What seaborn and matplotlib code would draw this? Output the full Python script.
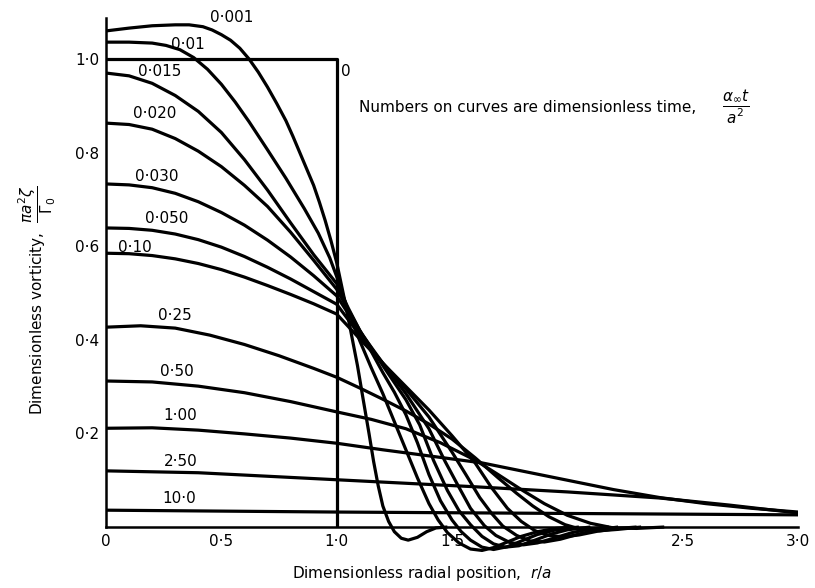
import matplotlib
matplotlib.use("Agg")
import matplotlib.pyplot as plt
import seaborn as sns
import pandas as pd

# Dimensionless times labelling each profile
times = ["0", "0·001", "0·01", "0·015", "0·020", "0·030", "0·050", "0·10",
         "0·25", "0·50", "1·00", "2·50", "10·0"]

# Radial positions r/a and vorticity pi a^2 zeta / Gamma_0 for each profile
r_0 = [0.0, 1.0, 1.0]
v_0 = [1.0, 1.0, 0.0]

r_0001 = [0, 0.1, 0.2, 0.3, 0.36, 0.42, 0.46, 0.50, 0.54, 0.58, 0.62, 0.66, 0.70, 0.74, 0.78,
          0.81, 0.84, 0.87, 0.90, 0.925, 0.95, 0.975, 1.0, 1.03, 1.06, 1.09, 1.115, 1.14, 1.16,
          1.18, 1.2, 1.225, 1.25, 1.28, 1.31, 1.35, 1.39, 1.43, 1.48]
v_0001 = [1.060, 1.066, 1.071, 1.073, 1.073, 1.069, 1.062, 1.052, 1.040, 1.023, 1.0, 0.972,
          0.940, 0.905, 0.868, 0.835, 0.800, 0.765, 0.730, 0.694, 0.655, 0.612, 0.565, 0.495,
          0.421, 0.345, 0.272, 0.200, 0.140, 0.088, 0.045, 0.012, -0.010, -0.024, -0.028,
          -0.022, -0.010, -0.002, 0.0]

r_001 = [0, 0.1, 0.2, 0.26, 0.32, 0.38, 0.44, 0.50, 0.56, 0.62, 0.70, 0.78, 0.86, 0.92, 0.97,
         1.0, 1.05, 1.1, 1.15, 1.2, 1.25, 1.3, 1.35, 1.4, 1.44, 1.48, 1.53, 1.58, 1.63, 1.68,
         1.74, 1.8, 1.87, 1.95, 2.02]
v_001 = [1.036, 1.036, 1.034, 1.029, 1.020, 1.003, 0.978, 0.946, 0.908, 0.866, 0.806, 0.745,
         0.680, 0.628, 0.575, 0.535, 0.462, 0.398, 0.340, 0.285, 0.225, 0.165, 0.105, 0.050,
         0.015, -0.012, -0.034, -0.047, -0.050, -0.044, -0.032, -0.020, -0.010, -0.003, 0.0]

r_0015 = [0, 0.1, 0.2, 0.3, 0.4, 0.5, 0.6, 0.7, 0.8, 0.9, 1.0, 1.05, 1.1, 1.15, 1.2, 1.25, 1.3,
          1.35, 1.4, 1.45, 1.5, 1.54, 1.58, 1.63, 1.68, 1.74, 1.8, 1.87, 1.95, 2.05]
v_0015 = [0.970, 0.964, 0.948, 0.922, 0.888, 0.843, 0.785, 0.720, 0.650, 0.582, 0.520, 0.468,
          0.420, 0.375, 0.330, 0.288, 0.240, 0.180, 0.112, 0.056, 0.015, -0.010, -0.028,
          -0.043, -0.048, -0.042, -0.030, -0.016, -0.006, 0.0]

r_0020 = [0, 0.1, 0.2, 0.3, 0.4, 0.5, 0.6, 0.7, 0.8, 0.9, 1.0, 1.1, 1.2, 1.3, 1.36, 1.42, 1.48,
          1.53, 1.58, 1.63, 1.68, 1.73, 1.79, 1.86, 1.93, 2.0, 2.1]
v_0020 = [0.863, 0.860, 0.850, 0.830, 0.803, 0.770, 0.730, 0.685, 0.630, 0.570, 0.508, 0.420,
          0.345, 0.272, 0.218, 0.142, 0.078, 0.035, 0.005, -0.020, -0.036, -0.043, -0.040,
          -0.028, -0.015, -0.006, 0.0]

r_0030 = [0, 0.1, 0.2, 0.3, 0.4, 0.5, 0.6, 0.7, 0.8, 0.9, 1.0, 1.1, 1.2, 1.3, 1.4, 1.47, 1.53,
          1.58, 1.64, 1.69, 1.75, 1.81, 1.87, 1.94, 2.02, 2.1, 2.18]
v_0030 = [0.733, 0.731, 0.725, 0.713, 0.695, 0.672, 0.645, 0.613, 0.577, 0.537, 0.494, 0.418,
          0.350, 0.285, 0.210, 0.140, 0.085, 0.040, 0.003, -0.018, -0.033, -0.038, -0.034,
          -0.024, -0.012, -0.004, 0.0]

r_0050 = [0, 0.1, 0.2, 0.3, 0.4, 0.5, 0.6, 0.7, 0.8, 0.9, 1.0, 1.1, 1.2, 1.3, 1.4, 1.5, 1.56,
          1.62, 1.67, 1.72, 1.78, 1.84, 1.9, 1.97, 2.05, 2.13, 2.22]
v_0050 = [0.639, 0.638, 0.634, 0.626, 0.614, 0.598, 0.578, 0.555, 0.530, 0.503, 0.476, 0.410,
          0.350, 0.295, 0.235, 0.160, 0.112, 0.063, 0.030, 0.002, -0.018, -0.030, -0.032,
          -0.026, -0.015, -0.006, 0.0]

r_010 = [0, 0.1, 0.2, 0.3, 0.4, 0.5, 0.6, 0.7, 0.8, 0.9, 1.0, 1.1, 1.2, 1.3, 1.4, 1.5, 1.6,
         1.67, 1.74, 1.8, 1.86, 1.92, 1.98, 2.05, 2.13, 2.22, 2.3]
v_010 = [0.585, 0.584, 0.580, 0.573, 0.563, 0.550, 0.534, 0.516, 0.497, 0.477, 0.455, 0.402,
         0.350, 0.300, 0.250, 0.195, 0.137, 0.085, 0.040, 0.012, -0.008, -0.018, -0.021,
         -0.017, -0.009, -0.003, 0.0]

r_025 = [0, 0.15, 0.3, 0.45, 0.6, 0.75, 0.9, 1.0, 1.1, 1.2, 1.3, 1.4, 1.5, 1.6, 1.7, 1.78,
         1.85, 1.92, 1.99, 2.06, 2.14, 2.22, 2.32]
v_025 = [0.427, 0.430, 0.425, 0.410, 0.390, 0.366, 0.339, 0.320, 0.297, 0.273, 0.248, 0.220,
         0.188, 0.148, 0.105, 0.072, 0.045, 0.022, 0.005, -0.005, -0.008, -0.005, 0.0]

r_050 = [0, 0.2, 0.4, 0.6, 0.8, 1.0, 1.15, 1.3, 1.45, 1.6, 1.7, 1.8, 1.9, 2.0, 2.1, 2.2, 2.3,
         2.42]
v_050 = [0.312, 0.310, 0.301, 0.287, 0.268, 0.246, 0.230, 0.210, 0.180, 0.143, 0.112, 0.080,
         0.050, 0.025, 0.008, -0.002, -0.003, 0.0]

r_100 = [0, 0.2, 0.4, 0.6, 0.8, 1.0, 1.2, 1.4, 1.63, 1.8, 2.0, 2.2, 2.4, 2.6, 2.8, 3.0]
v_100 = [0.211, 0.212, 0.207, 0.199, 0.190, 0.179, 0.165, 0.152, 0.137, 0.120, 0.100, 0.080,
         0.063, 0.050, 0.040, 0.032]

r_250 = [0, 0.4, 0.8, 1.2, 1.6, 2.0, 2.4, 2.7, 3.0]
v_250 = [0.120, 0.116, 0.106, 0.096, 0.086, 0.075, 0.062, 0.047, 0.030]

r_1000 = [0, 1.0, 2.0, 3.0]
v_1000 = [0.036, 0.032, 0.029, 0.026]

radii = [r_0, r_0001, r_001, r_0015, r_0020, r_0030, r_0050, r_010, r_025, r_050, r_100,
         r_250, r_1000]
values = [v_0, v_0001, v_001, v_0015, v_0020, v_0030, v_0050, v_010, v_025, v_050, v_100,
          v_250, v_1000]

# Where each time label sits (data coordinates, text centre)
label_r = [1.04, 0.546, 0.356, 0.234, 0.212, 0.221, 0.263, 0.125, 0.299, 0.308, 0.320,
           0.325, 0.316]
label_v = [0.974, 1.089, 1.030, 0.974, 0.883, 0.748, 0.660, 0.598, 0.453, 0.333, 0.239,
           0.139, 0.062]

frames = [pd.DataFrame({"r": r, "v": v, "curve": t}) for t, r, v in zip(times, radii, values)]
profiles = pd.concat(frames, ignore_index=True)

sns.set_style("white")
plt.rcParams["font.family"] = ["DejaVu Sans"]
plt.rcParams["mathtext.fontset"] = "dejavusans"
plt.rcParams["text.color"] = "black"

fig = plt.figure(figsize=(8.15, 5.88), dpi=100)
ax = fig.add_axes([0.1301, 0.0561, 0.8491, 0.9133])

sns.lineplot(data=profiles, x="r", y="v", units="curve", estimator=None, sort=False,
             color="black", linewidth=2.3, ax=ax, legend=False)
for line in ax.lines:
    line.set_solid_joinstyle("round")
    line.set_solid_capstyle("butt")

for t, lr, lv in zip(times, label_r, label_v):
    ax.text(lr, lv, t, fontsize=11, ha="center", va="center", clip_on=False)

ax.text(1.097, 0.897, "Numbers on curves are dimensionless time,", fontsize=11,
        ha="left", va="center")
ax.text(2.73, 0.897, r"$\dfrac{\alpha_\infty t}{a^2}$", fontsize=11, ha="center",
        va="center")

ax.set_xlim(0, 3.0)
ax.set_ylim(-0.0598, 1.0876)

for side in ("top", "right"):
    ax.spines[side].set_visible(False)
ax.spines["bottom"].set_position(("data", 0))
ax.spines["left"].set_bounds(0, 1.0876)
for side in ("left", "bottom"):
    ax.spines[side].set_linewidth(1.8)
    ax.spines[side].set_color("black")

ax.set_xticks([0, 0.5, 1.0, 1.5, 2.0, 2.5, 3.0])
ax.set_xticklabels(["0", "0·5", "1·0", "1·5", "", "2·5", "3·0"])
ax.set_yticks([0.2, 0.4, 0.6, 0.8, 1.0])
ax.set_yticklabels(["0·2", "0·4", "0·6", "0·8", "1·0"])
ax.tick_params(axis="both", direction="in", length=6, width=1.5, labelsize=11,
               colors="black", pad=5)
ax.set_xlabel("")
ax.set_ylabel("")

# Axis titles placed on the figure so the fractions stay inside the canvas
fig.text(0.518, 0.024, r"Dimensionless radial position,  $r/a$", fontsize=11,
         ha="center", va="center")
fig.text(0.046, 0.49, r"Dimensionless vorticity,  $\dfrac{\pi a^2\zeta}{\Gamma_0}$",
         fontsize=11, ha="center", va="center", rotation=90)

fig.savefig("out.png", dpi=100, facecolor="white")
